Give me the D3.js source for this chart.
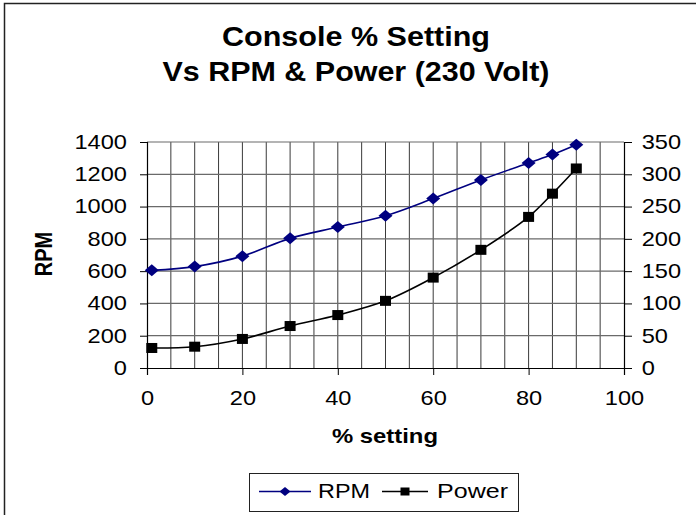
<!DOCTYPE html>
<html>
<head>
<meta charset="utf-8">
<script src="https://cdn.jsdelivr.net/npm/d3@7"></script>
<style>
  body { margin: 0; background: #fff; }
  svg { display: block; font-family: "Liberation Sans", Arial, sans-serif; }
</style>
</head>
<body>
<svg id="chart" width="696" height="515"></svg>
<script>
// data
const settings = [1, 10, 20, 30, 40, 50, 60, 70, 80, 85, 90];
const rpm = [605, 628, 693, 803, 873, 943, 1050, 1165, 1270, 1322, 1383];
const power = [31, 33, 45, 65, 82, 104, 140, 183, 234, 270, 309];
const xTicks = [0, 20, 40, 60, 80, 100];
const rpmTicks = [0, 200, 400, 600, 800, 1000, 1200, 1400];
const powerTicks = [0, 50, 100, 150, 200, 250, 300, 350];

const svg = d3.select('#chart');
const stretch = 1.18; // the reference text is a bit wide

const x = d3.scaleLinear().domain([0, 100]).range([147, 624]);
const yL = d3.scaleLinear().domain([0, 1400]).range([368, 142]);
const yR = d3.scaleLinear().domain([0, 350]).range([368, 142]);

// outer chart border
svg.append('rect')
    .attr('x', 4.5).attr('y', 3.5)
    .attr('width', 720).attr('height', 540)
    .attr('fill', 'none')
    .attr('stroke', '#222')
    .attr('stroke-width', 1.5);

// title
const titleLines = [
    { text: 'Console % Setting', y: 46, len: 268 },
    { text: 'Vs RPM & Power (230 Volt)', y: 81, len: 387 }
];
svg.selectAll('.title').data(titleLines).enter().append('text')
    .attr('class', 'title')
    .attr('x', 356).attr('y', d => d.y)
    .attr('text-anchor', 'middle')
    .attr('font-size', 27)
    .attr('font-weight', 'bold')
    .attr('textLength', d => d.len)
    .attr('lengthAdjust', 'spacingAndGlyphs')
    .text(d => d.text);

// grid
const grid = svg.append('g');
grid.selectAll('.vgrid').data(d3.range(5, 100, 5)).enter().append('line')
    .attr('x1', d => x(d)).attr('x2', d => x(d))
    .attr('y1', yL(0)).attr('y2', yL(1400))
    .attr('stroke', '#3a3a3a').attr('stroke-width', 1);
grid.selectAll('.hgrid').data(rpmTicks.slice(1)).enter().append('line')
    .attr('x1', x(0)).attr('x2', x(100))
    .attr('y1', d => yL(d)).attr('y2', d => yL(d))
    .attr('stroke', '#6a6a6a').attr('stroke-width', 1.2);

// axes
function styleAxis(g) {
    g.select('.domain').attr('stroke', '#000').attr('stroke-width', 1.2);
    g.selectAll('.tick line').attr('stroke', '#000');
    g.selectAll('.tick text')
        .attr('font-size', 20)
        .attr('fill', '#000')
        .attr('transform', `scale(${stretch},1)`);
}

const plain = d3.format('d');

svg.append('g')
    .attr('transform', `translate(0,${yL(0)})`)
    .call(d3.axisBottom(x).tickValues(xTicks).tickFormat(plain).tickSizeOuter(0).tickSize(7).tickPadding(16))
    .call(styleAxis);

svg.append('g')
    .attr('transform', `translate(${x(0)},0)`)
    .call(d3.axisLeft(yL).tickValues(rpmTicks).tickFormat(plain).tickSizeOuter(0).tickSize(7).tickPadding(10))
    .call(styleAxis);

svg.append('g')
    .attr('transform', `translate(${x(100)},0)`)
    .call(d3.axisRight(yR).tickValues(powerTicks).tickFormat(plain).tickSizeOuter(0).tickSize(8).tickPadding(7))
    .call(styleAxis);

svg.selectAll('.domain').attr('fill', 'none');

// axis titles
svg.append('text')
    .attr('x', 385).attr('y', 443)
    .attr('text-anchor', 'middle')
    .attr('font-size', 21)
    .attr('font-weight', 'bold')
    .attr('textLength', 106)
    .attr('lengthAdjust', 'spacingAndGlyphs')
    .text('% setting');

svg.append('text')
    .attr('transform', `translate(52,254) scale(${stretch},1) rotate(-90)`)
    .attr('text-anchor', 'middle')
    .attr('font-size', 20)
    .attr('font-weight', 'bold')
    .text('RPM');

// series
const rpmData = settings.map((s, i) => [s, rpm[i]]);
const powerData = settings.map((s, i) => [s, power[i]]);
const navy = '#000080';

const diamond = (cx, cy, w = 7, h = 6) =>
    `M${cx},${cy - h}L${cx + w},${cy}L${cx},${cy + h}L${cx - w},${cy}Z`;

svg.append('path')
    .datum(rpmData)
    .attr('fill', 'none')
    .attr('stroke', navy)
    .attr('stroke-width', 1.6)
    .attr('d', d3.line().x(d => x(d[0])).y(d => yL(d[1])).curve(d3.curveCatmullRom.alpha(0.5)));

svg.append('path')
    .datum(powerData)
    .attr('fill', 'none')
    .attr('stroke', '#000')
    .attr('stroke-width', 1.6)
    .attr('d', d3.line().x(d => x(d[0])).y(d => yR(d[1])).curve(d3.curveCatmullRom.alpha(0.5)));

svg.selectAll('.rpmPt').data(rpmData).enter().append('path')
    .attr('d', d => diamond(x(d[0]), yL(d[1])))
    .attr('fill', navy);

svg.selectAll('.powPt').data(powerData).enter().append('rect')
    .attr('x', d => x(d[0]) - 5.5).attr('y', d => yR(d[1]) - 5)
    .attr('width', 11).attr('height', 10)
    .attr('fill', '#000');

// legend
const legend = svg.append('g');
legend.append('rect')
    .attr('x', 249.5).attr('y', 473.5)
    .attr('width', 269).attr('height', 38)
    .attr('fill', '#fff')
    .attr('stroke', '#222')
    .attr('stroke-width', 1);

const legendItems = [
    { name: 'RPM', color: navy, shape: 'diamond', x0: 259, x1: 311, tx: 318, tlen: 52 },
    { name: 'Power', color: '#000', shape: 'square', x0: 382, x1: 428, tx: 437, tlen: 71 }
];
legendItems.forEach(it => {
    const ly = 491.5;
    legend.append('line')
        .attr('x1', it.x0).attr('x2', it.x1)
        .attr('y1', ly).attr('y2', ly)
        .attr('stroke', it.color).attr('stroke-width', 1.5);
    const cx = (it.x0 + it.x1) / 2;
    if (it.shape === 'diamond') {
        legend.append('path').attr('d', diamond(cx, ly, 5.5, 4.5)).attr('fill', it.color);
    } else {
        legend.append('rect').attr('x', cx - 4.5).attr('y', ly - 4)
            .attr('width', 9).attr('height', 8).attr('fill', it.color);
    }
    legend.append('text')
        .attr('x', it.tx).attr('y', 498)
        .attr('font-size', 21)
        .attr('textLength', it.tlen)
        .attr('lengthAdjust', 'spacingAndGlyphs')
        .text(it.name);
});
</script>
</body>
</html>
